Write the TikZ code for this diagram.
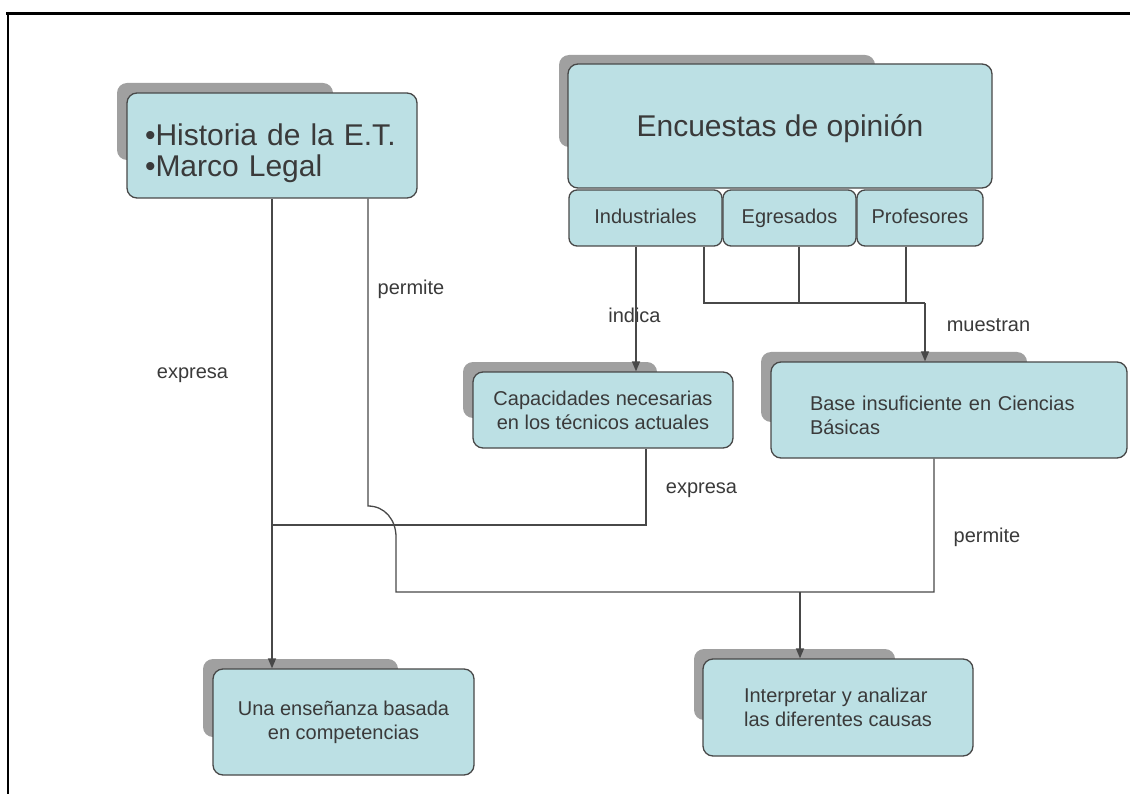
\documentclass[tikz,border=0pt]{standalone}
\usepackage{fontspec}
\setmainfont{Liberation Sans}
\usetikzlibrary{arrows.meta,calc}
\definecolor{boxfill}{RGB}{188,224,228}
\definecolor{shadowgray}{RGB}{160,160,160}
\definecolor{edgegray}{RGB}{72,72,72}
\definecolor{txtgray}{RGB}{58,58,58}
\begin{document}
\begin{tikzpicture}[x=1pt,y=-1pt,
  box/.style={draw=edgegray, line width=1.3pt, fill=boxfill, rounded corners=10pt,
    text=txtgray, font=\fontsize{20}{24}\selectfont, align=center, inner sep=0pt},
  subbox/.style={box, rounded corners=8pt, minimum height=56pt, text height=16pt, text depth=4pt},
  shadowbox/.style={fill=shadowgray, rounded corners=10pt},
  conn/.style={draw=edgegray, line width=1.3pt},
  arr/.style={conn, -{Triangle[length=10pt,width=8pt]}},
  lbl/.style={text=txtgray, font=\fontsize{20}{24}\selectfont, inner sep=0pt},
  framebar/.style={draw=black}
]
\useasboundingbox (0,0) rectangle (1130,794);
% frame
\draw[framebar, line width=3.5pt] (6,13.5) -- (1130,13.5);
\draw[framebar, line width=2pt] (7.5,12) -- (7.5,794);

% shadows
\fill[shadowbox] (117,83) rectangle (333,160);
\fill[shadowbox] (559,55) rectangle (875,147);
\fill[shadowbox] (463,362) rectangle (657,418);
\fill[shadowbox] (761,352) rectangle (1027,422);
\fill[shadowbox] (203,659) rectangle (398,737);
\fill[shadowbox] (694,649) rectangle (895,720);

% boxes
\node[box, minimum width=290pt, minimum height=105pt, text width=254pt, align=left,
  font=\fontsize{30}{31}\selectfont] (hist) at (272,145.5)
  {\rule{0pt}{38pt}•Historia de la E.T.\\•Marco Legal};
\node[box, minimum width=424pt, minimum height=124pt, font=\fontsize{30}{34}\selectfont,
  text height=28pt, text depth=6pt]
  (enc) at (780,126) {Encuestas de opinión};
\node[subbox, minimum width=153pt] (ind) at (645.5,218) {Industriales};
\node[subbox, minimum width=133pt] (egr) at (789.5,218) {Egresados};
\node[subbox, minimum width=126pt] (prof) at (920,218) {Profesores};
\node[box, minimum width=260pt, minimum height=76pt] (cap) at (603,410)
  {Capacidades necesarias\\en los técnicos actuales};
\node[box, minimum width=356pt, minimum height=96pt, text width=278pt, align=left]
  (base) at (949,410) {\rule{0pt}{26pt}Base insuficiente en Ciencias\\Básicas};
\node[box, minimum width=261pt, minimum height=106pt] (una) at (343.5,722)
  {Una enseñanza basada\\en competencias};
\node[box, minimum width=270pt, minimum height=97pt, align=left]
  (interp) at (838,707.5) {Interpretar y analizar\\las diferentes causas};

% labels
\node[lbl] (l1) at (192.5,375) {expresa};
\node[lbl] (l2) at (411,289) {permite};
\node[lbl] (l3) at (634.5,315) {indica};
\node[lbl] (l4) at (988.5,325) {muestran};
\node[lbl] (l5) at (701.5,490) {expresa};
\node[lbl] (l6) at (987,537) {permite};

% junction coordinates
\coordinate (jl) at (272,525);
\coordinate (hop1) at (368,506);
\coordinate (hop2) at (396,537);
\coordinate (jb) at (934,592);
\coordinate (jm) at (800,592);
\coordinate (jt) at (925,303);

% connectors
\draw[arr] (hist.south) -- (hist.south |- una.north);
\draw[conn] ([xshift=43pt]cap.south) |- (jl);
\draw[conn] ([xshift=96pt]hist.south) -- (hop1)
  .. controls +(17,0) and +(0,-17) .. (hop2) |- (jb) -- ([xshift=-15pt]base.south);
\draw[arr] (jm) -- ([xshift=-38pt]interp.north);
\draw[arr] ([xshift=-9.5pt]ind.south) -- ([xshift=33pt]cap.north);
\draw[conn] ([xshift=58.5pt]ind.south) |- (jt);
\draw[conn] ([xshift=9.5pt]egr.south) -- ++(0,57);
\draw[conn] ([xshift=-14pt]prof.south) -- ++(0,57);
\draw[arr] (jt) -- ([xshift=-24pt]base.north);
\end{tikzpicture}
\end{document}
